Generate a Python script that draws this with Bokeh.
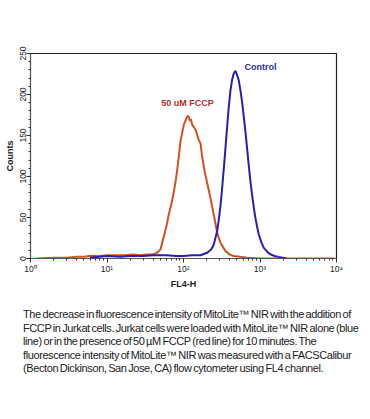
from bokeh.plotting import figure
from bokeh.models import Range1d, LogTicker, SingleIntervalTicker, Label, Div
from bokeh.layouts import column
from bokeh.embed import file_html
from bokeh.resources import INLINE

# FL4-H fluorescence (x) and counts (y)
fccp_x = [1.2, 2, 3, 4, 5, 6, 8, 10, 13, 17, 22, 27, 33, 40, 45, 50, 55, 60, 64, 70, 75, 80, 83, 87, 91,
          96, 101, 108, 114, 117, 121, 125, 130, 137, 144, 158, 167, 175, 190, 204, 225, 249, 276, 305,
          354, 400, 450, 550, 680, 1000, 2000, 5000, 9500]
fccp_y = [0, 1, 1, 2, 2, 3, 3, 4, 4, 4, 5, 4, 5, 5, 7, 11, 26, 40, 53, 68, 82, 98, 109, 125, 142,
          153, 163, 170, 174, 173, 168, 170, 163, 160, 157, 145, 140, 125, 105, 92, 74, 53, 31, 19,
          9, 5, 3, 2, 1, 0, 0, 0, 0]

ctrl_x = [6, 8, 10, 15, 20, 30, 40, 60, 80, 100, 130, 167, 204, 230, 249, 276, 290, 305, 320, 336, 354,
          372, 390, 411, 432, 455, 478, 500, 528, 555, 585, 615, 646, 680, 714, 750, 790, 830, 873, 920,
          965, 1040, 1122, 1250, 1372, 1550, 1745, 2220]
ctrl_y = [1, 2, 3, 2, 3, 3, 4, 4, 3, 3, 4, 4, 7, 11, 17, 34, 48, 65, 86, 109, 135,
          161, 184, 205, 218, 226, 229, 224, 217, 205, 190, 172, 154, 133, 113, 94, 77, 62, 49, 38,
          29, 20, 13, 8, 5, 3, 2, 0]

x_ticks = [1, 10, 100, 1000, 10000]
x_tick_labels = ["10⁰", "10¹", "10²", "10³", "10⁴"]

caption_lines = [
    "The decrease in fluorescence intensity of MitoLite™ NIR with the addition of",
    "FCCP in Jurkat cells. Jurkat cells were loaded with MitoLite™ NIR alone (blue",
    "line) or in the presence of 50 µM FCCP (red line) for 10 minutes. The",
    "fluorescence intensity of MitoLite™ NIR was measured with a FACSCalibur",
    "(Becton Dickinson, San Jose, CA) flow cytometer using FL4 channel.",
]

p = figure(width=362, height=291, x_axis_type="log", output_backend="svg", toolbar_location=None,
           x_range=Range1d(1, 10000), y_range=Range1d(0, 250),
           min_border_left=30, min_border_right=26, min_border_top=53, min_border_bottom=5)
p.grid.visible = False
p.outline_line_color = "#222222"
p.outline_line_width = 1.2
p.background_fill_color = "white"
p.border_fill_color = "white"

p.line(fccp_x, fccp_y, line_color="#d6501f", line_width=2)
p.line(ctrl_x, ctrl_y, line_color="#2a1db5", line_width=2)

p.add_layout(Label(x=627, y=233, text="Control", text_color="#2d2d9c", text_font_size="9px",
                   text_font_style="bold", text_font="Liberation Sans", text_baseline="middle"))
p.add_layout(Label(x=51, y=190, text="50 uM FCCP", text_color="#b2302a", text_font_size="9px",
                   text_font_style="bold", text_font="Liberation Sans", text_baseline="middle"))

xa = p.xaxis[0]
xa.ticker = LogTicker(desired_num_ticks=5, num_minor_ticks=10)
xa.major_label_overrides = {t: l for t, l in zip(x_ticks, x_tick_labels)}
xa.axis_label = "FL4-H"
ya = p.yaxis[0]
ya.ticker = SingleIntervalTicker(interval=50, num_minor_ticks=5)
ya.axis_label = "Counts"
ya.major_label_orientation = "vertical"

for ax in (xa, ya):
    ax.axis_line_color = "#555555"
    ax.major_tick_line_color = "#333333"
    ax.minor_tick_line_color = "#333333"
    ax.major_tick_in = 0
    ax.major_tick_out = 4
    ax.minor_tick_in = 0
    ax.minor_tick_out = 2
    ax.major_label_text_font = "Liberation Sans"
    ax.major_label_text_font_size = "8.5px"
    ax.major_label_text_color = "#222222"
    ax.axis_label_text_font = "Liberation Sans"
    ax.axis_label_text_font_size = "9px"
    ax.axis_label_text_font_style = "bold"
    ax.axis_label_text_color = "#222222"
    ax.major_label_standoff = 1
    ax.axis_label_standoff = 2

div = Div(text="<br>".join(caption_lines), width=362, height=120,
          styles={"font-family": "'Liberation Sans', Arial, sans-serif",
                  "font-size": "11px", "line-height": "13.5px", "color": "#222222",
                  "padding-left": "18px", "padding-top": "12px", "white-space": "nowrap",
                  "letter-spacing": "-0.4px", "word-spacing": "-1px"})

layout = column(p, div, spacing=0)
open("out.html", "w").write(file_html(layout, INLINE))
